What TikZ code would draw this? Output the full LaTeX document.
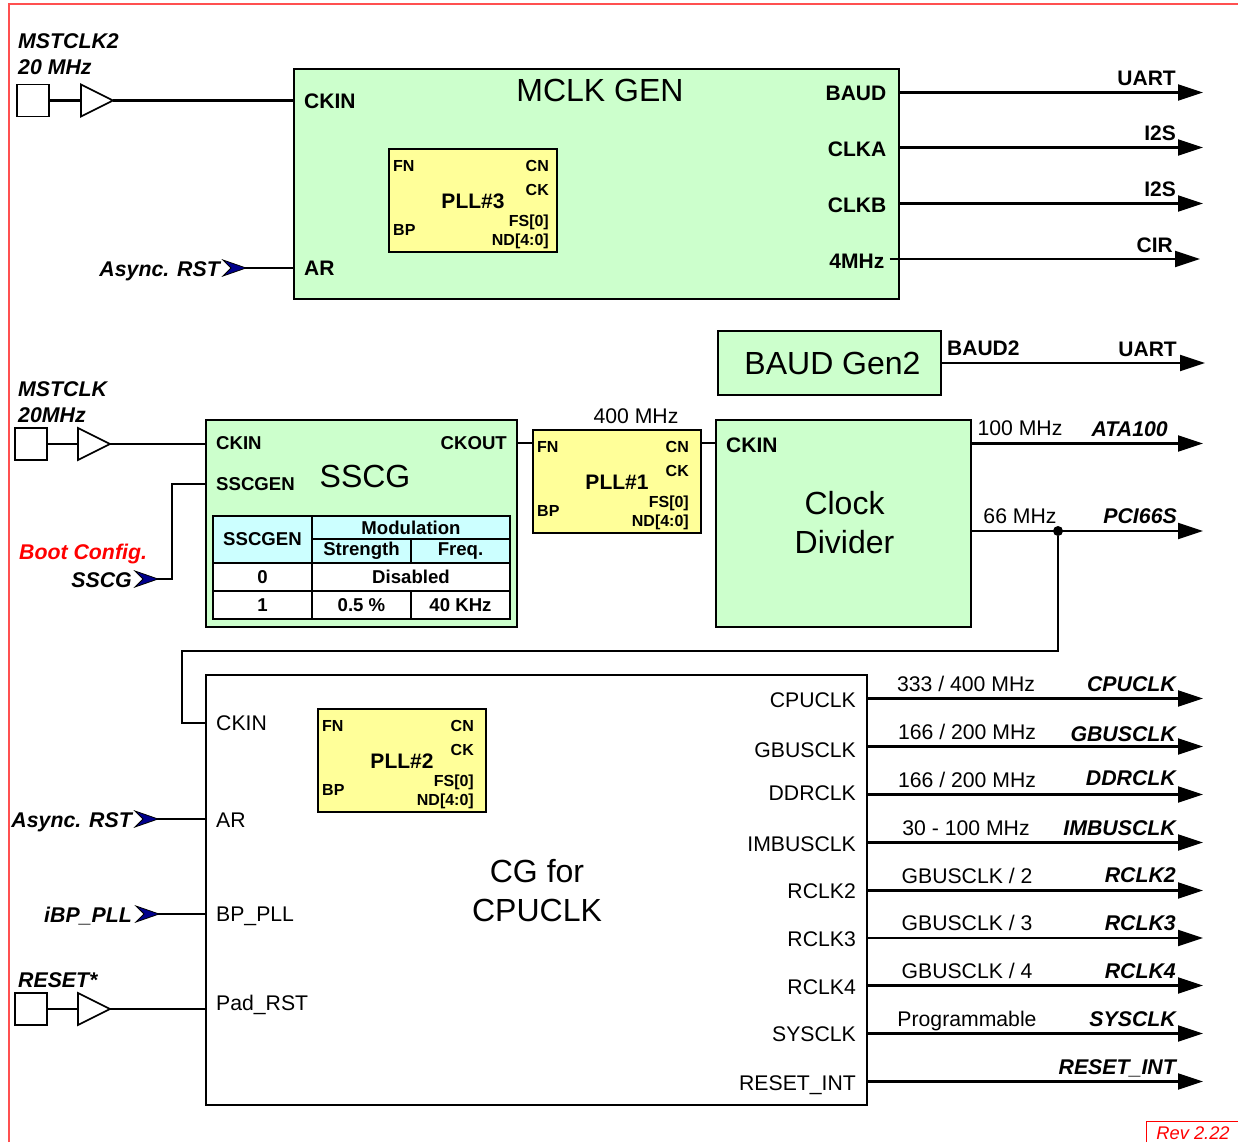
\documentclass[tikz,border=0pt]{standalone}
\usepackage{fontspec}
\setmainfont{Liberation Sans}
\usetikzlibrary{arrows.meta,positioning,calc,shapes.geometric}
\definecolor{blockg}{HTML}{CCFFCC}
\definecolor{plly}{HTML}{FFFF99}
\definecolor{cellc}{HTML}{CCFFFF}
\definecolor{framer}{HTML}{FF5050}
\newcommand{\fs}[1]{\fontsize{#1}{#1}\selectfont}
\newcommand{\chev}[1]{\filldraw[draw=black, line width=0.8pt, fill=blue!55!black]
  (#1) ++(1,0) -- ++(-23,-8) -- ++(8,8) -- ++(-8,8) -- cycle;}
\newcommand{\pllbox}[5]{%
  \begin{scope}[shift={(#2,#3)}]
    \node[pllb] (#1) at (0,0) {};
    \node[pllw] (#1fn) at (4,16.5) {FN};
    \node[pllw] (#1bp) at (4,80.5) {BP};
    \node[plle] (#1cn) at (#5,16.5) {CN};
    \node[plle] (#1ck) at (#5,40.5) {CK};
    \node[plle] (#1fs) at (#5,71.5) {FS[0]};
    \node[plle] (#1nd) at (#5,90.5) {ND[4:0]};
    \node[port, anchor=center] (#1t) at (84,51.5) {#4};
  \end{scope}}
\tikzset{
  blk/.style={rectangle, draw=black, line width=1.6pt, fill=#1, anchor=north west,
              inner sep=0pt, outer sep=0pt},
  pllb/.style={blk=plly, minimum width=168, minimum height=103},
  cell/.style={rectangle, draw=black, line width=1.1pt, fill=#1, anchor=north west, inner sep=0pt,
               outer sep=0pt, font=\fs{18.6}\bfseries},
  title/.style={font=\fs{32}, align=center, inner sep=0pt},
  port/.style={font=\fs{21}\bfseries, inner sep=0pt, anchor=west, text height=15pt, text depth=0pt},
  sport/.style={font=\fs{18.6}\bfseries, inner sep=0pt, anchor=west, text height=13.4pt, text depth=0pt},
  pllw/.style={font=\fs{16}\bfseries, inner sep=0pt, anchor=west, text height=11.5pt, text depth=0pt},
  plle/.style={pllw, anchor=east},
  thin21/.style={font=\fs{21.2}, inner sep=0pt, text height=15pt, text depth=0pt},
  sig/.style={font=\fs{21.3}\bfseries\itshape, inner sep=0pt, anchor=east, text height=15pt, text depth=0pt},
  sigtwo/.style={font=\fs{21.3}\bfseries\itshape, inner sep=0pt, anchor=north west, align=left},
  pad/.style={rectangle, draw=black, line width=1.6pt, minimum size=32, inner sep=0pt, outer sep=0pt},
  buftri/.style={isosceles triangle, isosceles triangle stretches, draw=black, line width=1.6pt,
                 minimum width=32, minimum height=32, inner sep=0pt, outer sep=0pt, anchor=west},
  wire/.style={draw=black, line width=2.2pt},
  sigout/.style={-{Triangle[length=25pt,width=16pt]}, line width=2.2pt, draw=black, shorten >=-1pt},
  dotn/.style={circle, fill=black, minimum size=10, inner sep=0pt},
}

\begin{document}
\begin{tikzpicture}[x=1pt, y=-1pt]
        \useasboundingbox (0,0) rectangle (1238,1142);
        \draw[framer, line width=2pt] (9,1142) |- (1238,4);
        \draw[red, line width=1pt] (1146,1142) |- (1238,1121);
        \node[font=\fs{18.3}\itshape, text=red, inner sep=0pt] (rev) at (1193,1133) {Rev 2.22};

        % MCLK
        \node[blk=blockg, minimum width=605, minimum height=230] (mclk) at (294,69) {};
        \node[title] (mclkt) at (600,90) {MCLK GEN};
        \node[port] (ckina) at (304,101) {CKIN};
        \node[port] (ara) at (304,268) {AR};
        \node[port, anchor=east] (lbaud) at (886.5,93.5) {BAUD};
        \node[port, anchor=east] (lclka) at (886.5,149) {CLKA};
        \node[port, anchor=east] (lclkb) at (886.5,205) {CLKB};
        \node[port, anchor=east] (lmhz) at (884.5,261) {4MHz};
        \pllbox{plla}{389}{149}{PLL\#3}{160}
        \node[sigtwo] (mstb) at (18,33) {MSTCLK2\\[5pt]20 MHz};
        \node[pad] (pada) at (33,100.5) {};
        \node[buftri] (bufa) at (81,100.5) {};
        \draw[wire] (pada) -- (bufa);
        \draw[wire] (bufa.east) -- (mclk.west |- bufa.east);
        \node[sig] (rsta) at (220,269) {Async. RST};
        \coordinate (tipa) at (245,268);
        \draw[wire] (tipa) -- (mclk.west |- tipa);
        \chev{tipa}
        \coordinate (oa) at (1202,92.5);
        \coordinate (ob) at (1202,147.5);
        \coordinate (oc) at (1202,203.5);
        \coordinate (od) at (1199,259);
        \draw[sigout] (mclk.east |- oa) -- (oa);
        \draw[sigout] (mclk.east |- ob) -- (ob);
        \draw[sigout] (mclk.east |- oc) -- (oc);
        \draw[sigout] (lmhz.east |- od) ++(5,0) -- (od);
        \node[port, anchor=east] (ua) at (1176,78) {UART};
        \node[port, anchor=east] (ub) at (1176,133) {I2S};
        \node[port, anchor=east] (uc) at (1176,189) {I2S};
        \node[port, anchor=east] (ud) at (1173,245) {CIR};

        % BAUD
        \node[blk=blockg, minimum width=223, minimum height=64] (baudg) at (718,331) {};
        \node[title] (baudt) at (832.5,363) {BAUD Gen2};
        \node[port] (lbaudb) at (947,348) {BAUD2};
        \coordinate (oe) at (1204,363);
        \draw[sigout] (baudg.east |- oe) -- (oe);
        \node[port, anchor=east] (ue) at (1177,349) {UART};

        % SSCG
        \node[blk=blockg, minimum width=311, minimum height=207] (sscg) at (206,420) {};
        \node[title] (sscgt) at (365,476) {SSCG};
        \node[sport] (ckins) at (216,443) {CKIN};
        \node[sport, anchor=east] (ckout) at (507,443) {CKOUT};
        \node[sport] (sgen) at (216,484) {SSCGEN};
        \node[cell=cellc, minimum width=99, minimum height=47] (c11) at (213,516) {SSCGEN};
        \node[cell=cellc, minimum width=198, minimum height=23] (c12) at (312,516) {Modulation};
        \node[cell=cellc, minimum width=99, minimum height=24] (c22) at (312,539) {Strength};
        \node[cell=cellc, minimum width=99, minimum height=24] (c23) at (411,539) {Freq.};
        \node[cell=white, minimum width=99, minimum height=28] (c31) at (213,563) {0};
        \node[cell=white, minimum width=198, minimum height=28] (c32) at (312,563) {Disabled};
        \node[cell=white, minimum width=99, minimum height=28] (c41) at (213,591) {1};
        \node[cell=white, minimum width=99, minimum height=28] (c42) at (312,591) {0.5 \%};
        \node[cell=white, minimum width=99, minimum height=28] (c43) at (411,591) {40 KHz};
        \node[sigtwo] (mstc) at (18,381) {MSTCLK\\[5pt]20MHz};
        \node[pad] (padb) at (31,444) {};
        \node[buftri] (bufb) at (78,444) {};
        \draw[wire] (padb) -- (bufb);
        \draw[wire] (bufb.east) -- (sscg.west |- bufb.east);
        \node[sig, text=red, anchor=west] (boot) at (19,552) {Boot Config.};
        \node[sig] (lsscg) at (132,580) {SSCG};
        \coordinate (tipb) at (157,579);
        \draw[wire] (tipb) -| (172,484) -- (sscg.west |- sgen);
        \chev{tipb}

        % PLL 1 and divider
        \pllbox{pllc}{533}{430}{PLL\#1}{156}
        \node[thin21] (f400) at (636,416) {400 MHz};
        \node[blk=blockg, minimum width=255, minimum height=207] (cdiv) at (716,420) {};
        \node[port] (ckind) at (726,445) {CKIN};
        \node[title] (cdivt) at (844.5,523) {Clock\\[7pt]Divider};
        \draw[wire] (sscg.east |- ckout) -- (pllc.west |- ckout);
        \draw[wire] (pllc.east |- ckout) -- (cdiv.west |- ckout);
        \coordinate (of) at (1202,443.5);
        \coordinate (og) at (1202,531);
        \draw[sigout] (cdiv.east |- of) -- (of);
        \draw[sigout] (cdiv.east |- og) -- (og);
        \node[thin21] (f100) at (1020,428) {100 MHz};
        \node[thin21] (f66) at (1020,516) {66 MHz};
        \node[sig] (ata) at (1168,429) {ATA100};
        \node[sig] (pci) at (1177,516) {PCI66S};
        \node[dotn] (d66) at (1058,531) {};

        % CG
        \node[blk=white, minimum width=661, minimum height=430] (cg) at (206,675) {};
        \node[title] (cgt) at (537,891) {CG for\\[7pt]CPUCLK};
        \pllbox{pllb}{318}{709}{PLL\#2}{156}
        \node[thin21, anchor=west] (ckinc) at (216,723) {CKIN};
        \node[thin21, anchor=west] (arc) at (216,820) {AR};
        \node[thin21, anchor=west] (bpc) at (216,914) {BP\_PLL};
        \node[thin21, anchor=west] (prst) at (216,1003) {Pad\_RST};
        \coordinate (fb) at (182,651);
        \draw[wire] (d66) |- (fb) |- (cg.west |- ckinc);
        \node[sig] (rstb) at (132,820) {Async. RST};
        \node[sig] (ibp) at (132,915) {iBP\_PLL};
        \coordinate (tipc) at (157,819);
        \coordinate (tipd) at (158,914);
        \draw[wire] (tipc) -- (cg.west |- tipc);
        \draw[wire] (tipd) -- (cg.west |- tipd);
        \chev{tipc}
        \chev{tipd}
        \node[sigtwo] (rstn) at (18,972) {RESET*};
        \node[pad] (padc) at (31,1009) {};
        \node[buftri] (bufc) at (78,1009) {};
        \draw[wire] (padc) -- (bufc);
        \draw[wire] (bufc.east) -- (cg.west |- bufc.east);

        \node[thin21, anchor=east] (pa) at (856,700) {CPUCLK};
        \node[thin21, anchor=east] (pb) at (856,750) {GBUSCLK};
        \node[thin21, anchor=east] (pc) at (856,793) {DDRCLK};
        \node[thin21, anchor=east] (pd) at (856,844) {IMBUSCLK};
        \node[thin21, anchor=east] (pe) at (856,891) {RCLK2};
        \node[thin21, anchor=east] (pf) at (856,939) {RCLK3};
        \node[thin21, anchor=east] (pg) at (856,987) {RCLK4};
        \node[thin21, anchor=east] (ph) at (856,1034) {SYSCLK};
        \node[thin21, anchor=east] (pi) at (856,1083) {RESET\_INT};

        \coordinate (qa) at (1202,698.5);
        \coordinate (qb) at (1202,746.5);
        \coordinate (qc) at (1202,794.5);
        \coordinate (qd) at (1202,842.5);
        \coordinate (qe) at (1202,890.5);
        \coordinate (qf) at (1202,938);
        \coordinate (qg) at (1202,985.5);
        \coordinate (qh) at (1202,1033.5);
        \coordinate (qi) at (1202,1081.5);
        \draw[sigout] (cg.east |- qa) -- (qa);
        \draw[sigout] (cg.east |- qb) -- (qb);
        \draw[sigout] (cg.east |- qc) -- (qc);
        \draw[sigout] (cg.east |- qd) -- (qd);
        \draw[sigout] (cg.east |- qe) -- (qe);
        \draw[sigout] (cg.east |- qf) -- (qf);
        \draw[sigout] (cg.east |- qg) -- (qg);
        \draw[sigout] (cg.east |- qh) -- (qh);
        \draw[sigout] (cg.east |- qi) -- (qi);

        \node[thin21] (ra) at (966,684) {333 / 400 MHz};
        \node[thin21] (rb) at (967,732) {166 / 200 MHz};
        \node[thin21] (rc) at (967,780) {166 / 200 MHz};
        \node[thin21] (rd) at (966,828) {30 - 100 MHz};
        \node[thin21] (re) at (967,876) {GBUSCLK / 2};
        \node[thin21] (rf) at (967,923) {GBUSCLK / 3};
        \node[thin21] (rg) at (967,971) {GBUSCLK / 4};
        \node[thin21] (rh) at (967,1019) {Programmable};

        \node[sig] (sa) at (1176,684) {CPUCLK};
        \node[sig] (sb) at (1176,734) {GBUSCLK};
        \node[sig] (sc) at (1176,778) {DDRCLK};
        \node[sig] (sd) at (1176,828) {IMBUSCLK};
        \node[sig] (se) at (1176,875) {RCLK2};
        \node[sig] (sf) at (1176,923) {RCLK3};
        \node[sig] (sg) at (1176,971) {RCLK4};
        \node[sig] (sh) at (1176,1019) {SYSCLK};
        \node[sig] (si) at (1176,1067) {RESET\_INT};
      \end{tikzpicture}
\end{document}
